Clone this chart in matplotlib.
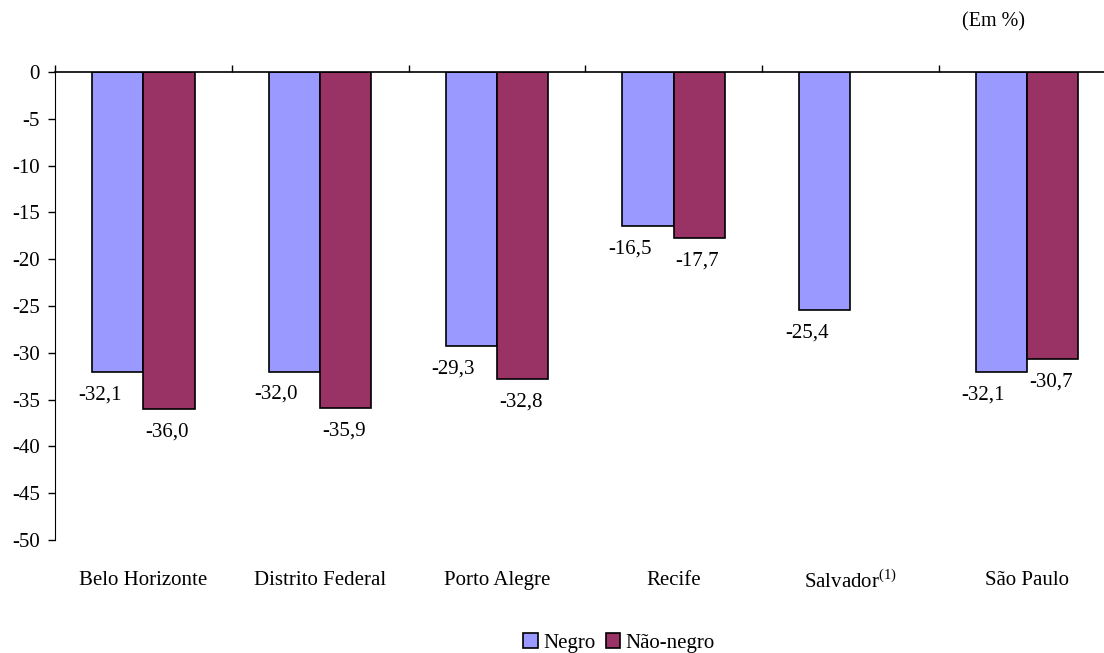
import matplotlib
matplotlib.use("Agg")
import matplotlib.pyplot as plt
import numpy as np

plt.rcParams['font.family'] = ['Liberation Serif', 'DejaVu Serif']
plt.rcParams['mathtext.fontset'] = 'custom'
plt.rcParams['mathtext.rm'] = 'Liberation Serif'

cidades = ['Belo Horizonte', 'Distrito Federal', 'Porto Alegre', 'Recife',
           'Salvador$^{(1)}$', 'São Paulo']
negro = [-32.1, -32.0, -29.3, -16.5, -25.4, -32.1]
nao_negro = [-36.0, -35.9, -32.8, -17.7, np.nan, -30.7]
yticks = list(range(0, -55, -5))

FS = 15
fig = plt.figure(figsize=(11.04, 6.53), dpi=100)
ax = fig.add_axes([55 / 1104, 1 - 540 / 653, 1060.5 / 1104, 468 / 653])

x = np.arange(len(cidades))
w = 0.29
b1 = ax.bar(x - w / 2, negro, w, color='#9999FF', edgecolor='black', linewidth=1.2, label='Negro')
b2 = ax.bar(x + w / 2, nao_negro, w, color='#993366', edgecolor='black', linewidth=1.2, label='Não-negro')

def fmt(v):
    return f'{v:.1f}'.replace('.', ',')

for xi, v in zip(x, negro):
    ax.annotate(fmt(v), (xi - w / 2, v), xytext=(-18, -23), textcoords='offset pixels',
                ha='center', va='center', fontsize=FS)
for xi, v in zip(x, nao_negro):
    if np.isnan(v):
        continue
    ax.annotate(fmt(v), (xi + w / 2, v), xytext=(-2, -23), textcoords='offset pixels',
                ha='center', va='center', fontsize=FS)

ax.set_xlim(-0.5, len(cidades) - 0.5)
ax.set_ylim(-50, 0)
ax.set_yticks(yticks)
ax.set_yticklabels([str(t) for t in yticks], fontsize=FS)
ax.tick_params(axis='y', direction='out', length=5, width=1, pad=6)

# category boundary ticks on the zero line, names at the bottom
ax.spines['bottom'].set_visible(False)
ax.spines['right'].set_visible(False)
ax.spines['top'].set_linewidth(1.2)
ax.xaxis.set_ticks_position('top')
ax.set_xticks(np.arange(-0.5, len(cidades), 1.0))
ax.set_xticklabels([])
ax.tick_params(axis='x', which='major', direction='out', length=5, width=1)
ax.set_xticks(x, minor=True)
ax.set_xticklabels(cidades, minor=True, fontsize=FS)
ax.tick_params(axis='x', which='minor', length=0, labeltop=False, labelbottom=True, bottom=False, top=False, pad=22)

fig.text(962 / 1104, 1 - 22 / 653, '(Em %)', fontsize=FS - 0.5, ha='left', va='center')

fig.legend(handles=[b1, b2], loc='center', bbox_to_anchor=(619 / 1104, 1 - 643 / 653), ncol=2,
           frameon=False, fontsize=FS, handlelength=0.7, handleheight=0.7, handletextpad=0.25,
           columnspacing=0.5)

fig.savefig('out.png', dpi=100)
